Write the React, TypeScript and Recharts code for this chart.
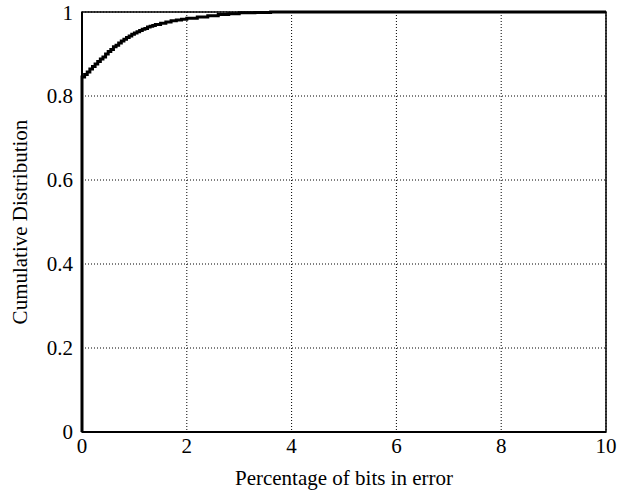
import React from "react";
import { LineChart, Line, XAxis, YAxis, CartesianGrid, ReferenceArea } from "recharts";

const xValues = [0, 0, 0.05, 0.1, 0.15, 0.2, 0.25, 0.3, 0.35, 0.4, 0.45, 0.5, 0.55, 0.6, 0.65, 0.7, 0.75, 0.8, 0.85, 0.9, 0.95, 1.0, 1.05, 1.1, 1.15, 1.2, 1.25, 1.3, 1.35, 1.4, 1.5, 1.6, 1.7, 1.8, 1.9, 2.0, 2.2, 2.4, 2.6, 2.8, 3.0, 3.3, 3.6, 10];
const cdfValues = [0, 0.845, 0.851, 0.857, 0.864, 0.87, 0.876, 0.882, 0.888, 0.893, 0.9, 0.906, 0.911, 0.917, 0.921, 0.926, 0.931, 0.935, 0.939, 0.943, 0.947, 0.95, 0.953, 0.956, 0.959, 0.961, 0.964, 0.966, 0.968, 0.97, 0.973, 0.976, 0.979, 0.981, 0.983, 0.985, 0.988, 0.991, 0.994, 0.996, 0.998, 0.999, 1.0, 1.0];
const xTicks = [0, 2, 4, 6, 8, 10];
const yTicks = [0, 0.2, 0.4, 0.6, 0.8, 1];

const data = xValues.map((x, i) => ({ x, y: cdfValues[i] }));

const font = "'Liberation Serif', 'DejaVu Serif', serif";

export default function App() {
  return (
    <div style={{ position: "absolute", left: 0, top: 0, background: "#fff" }}>
      <LineChart width={624} height={494} data={data} margin={{ top: 12, right: 18, bottom: 0, left: 0 }}>
        <CartesianGrid stroke="#000" strokeDasharray="1 2" strokeWidth={1} />
        <XAxis
          dataKey="x"
          type="number"
          domain={[0, 10]}
          ticks={xTicks}
          height={62}
          axisLine={{ stroke: "#000", strokeWidth: 2 }}
          tickLine={false}
          tick={{ fill: "#000", fontSize: 21, fontFamily: font }}
          tickMargin={0}
          label={{ value: "Percentage of bits in error", position: "insideBottom", offset: 9, fill: "#000", fontSize: 21, fontFamily: font }}
        />
        <YAxis
          type="number"
          domain={[0, 1]}
          ticks={yTicks}
          width={82}
          axisLine={{ stroke: "#000", strokeWidth: 2 }}
          tickLine={false}
          tick={{ fill: "#000", fontSize: 21, fontFamily: font }}
          tickMargin={3}
          label={{ value: "Cumulative Distribution", angle: -90, position: "insideLeft", offset: 20, fill: "#000", fontSize: 21, fontFamily: font, style: { textAnchor: "middle" } }}
        />
        <ReferenceArea x1={0} x2={10} y1={0} y2={1} fill="none" stroke="#000" strokeWidth={1.5} fillOpacity={0} />
        <Line type="stepAfter" dataKey="y" stroke="#000" strokeWidth={3} dot={false} isAnimationActive={false} />
      </LineChart>
    </div>
  );
}
